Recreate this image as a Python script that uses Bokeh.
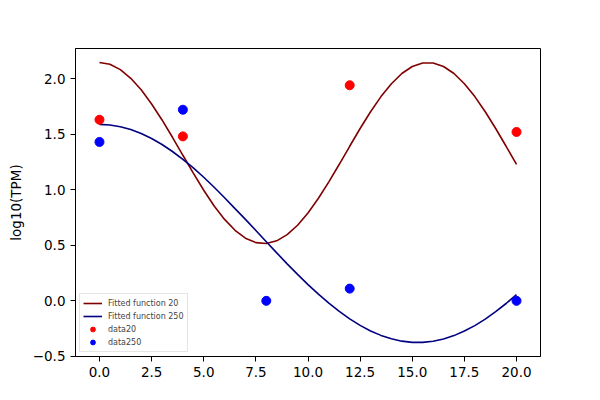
from bokeh.plotting import figure
from bokeh.models import Range1d, FixedTicker, NumeralTickFormatter, Legend, LegendItem
from bokeh.embed import file_html
from bokeh.resources import INLINE

# ---- data ----
x_fit = [0.0, 0.5, 1.0, 1.5, 2.0, 2.5, 3.0, 3.5, 4.0, 4.5, 5.0, 5.5, 6.0, 6.5,
         7.0, 7.5, 8.0, 8.5, 9.0, 9.5, 10.0, 10.5, 11.0, 11.5, 12.0, 12.5, 13.0,
         13.5, 14.0, 14.5, 15.0, 15.5, 16.0, 16.5, 17.0, 17.5, 18.0, 18.5, 19.0,
         19.5, 20.0]
fit20 = [2.145, 2.129, 2.081, 2.003, 1.899, 1.772, 1.628, 1.472, 1.310, 1.149,
         0.995, 0.853, 0.733, 0.635, 0.564, 0.524, 0.516, 0.540, 0.596, 0.680,
         0.791, 0.923, 1.070, 1.229, 1.391, 1.551, 1.702, 1.838, 1.954, 2.046,
         2.109, 2.141, 2.141, 2.109, 2.046, 1.954, 1.838, 1.702, 1.551, 1.391,
         1.229]
fit250 = [1.588, 1.583, 1.567, 1.542, 1.506, 1.461, 1.407, 1.344, 1.274, 1.196,
          1.112, 1.022, 0.928, 0.830, 0.733, 0.633, 0.532, 0.432, 0.333, 0.238,
          0.146, 0.060, -0.021, -0.095, -0.162, -0.221, -0.271, -0.311, -0.342,
          -0.363, -0.374, -0.374, -0.364, -0.343, -0.313, -0.272, -0.223, -0.165,
          -0.098, -0.024, 0.056]
x_data20 = [0, 4, 12, 20]
y_data20 = [1.63, 1.48, 1.94, 1.52]
x_data250 = [0, 4, 8, 12, 20]
y_data250 = [1.43, 1.72, 0.0, 0.11, 0.0]

x_ticks = [0.0, 2.5, 5.0, 7.5, 10.0, 12.5, 15.0, 17.5, 20.0]
x_tick_labels = ["0.0", "2.5", "5.0", "7.5", "10.0", "12.5", "15.0", "17.5", "20.0"]
y_ticks = [-0.5, 0.0, 0.5, 1.0, 1.5, 2.0]
y_tick_labels = ["\u22120.5", "0.0", "0.5", "1.0", "1.5", "2.0"]

series_labels = ["Fitted function 20", "Fitted function 250", "data20", "data250"]

FONT = "DejaVu Sans"

p = figure(width=600, height=400,
           x_range=Range1d(-1.15, 21.15), y_range=Range1d(-0.501, 2.271),
           output_backend="svg", toolbar_location=None,
           min_border_left=75, min_border_right=60,
           min_border_top=48, min_border_bottom=44)
p.background_fill_color = "white"
p.border_fill_color = "white"
p.xgrid.visible = False
p.ygrid.visible = False
p.outline_line_color = "black"
p.outline_line_alpha = 1.0
p.outline_line_width = 1

p.xaxis.ticker = FixedTicker(ticks=x_ticks)
p.yaxis.ticker = FixedTicker(ticks=y_ticks)
p.xaxis.formatter = NumeralTickFormatter(format="0.0")
p.yaxis.formatter = NumeralTickFormatter(format="0.0")
p.xaxis.major_label_overrides = dict(zip(x_ticks, x_tick_labels))
p.yaxis.major_label_overrides = dict(zip(y_ticks, y_tick_labels))

for ax in (p.xaxis, p.yaxis):
    ax.axis_line_color = "black"
    ax.major_tick_line_color = "black"
    ax.major_tick_out = 5
    ax.major_tick_in = 0
    ax.minor_tick_line_color = None
    ax.major_label_standoff = 5
    ax.major_label_text_font = FONT
    ax.major_label_text_font_size = "13.5px"
    ax.major_label_text_color = "black"

p.yaxis.axis_label = "log10(TPM)"
p.yaxis.axis_label_text_font = FONT
p.yaxis.axis_label_text_font_size = "13.5px"
p.yaxis.axis_label_text_font_style = "normal"
p.yaxis.axis_label_text_color = "black"
p.yaxis.axis_label_standoff = 6

r1 = p.line(x_fit, fit20, line_color="#800000", line_width=1.6)
r2 = p.line(x_fit, fit250, line_color="#000080", line_width=1.6)
r3 = p.scatter(x_data20, y_data20, size=9, fill_color="red", line_color="red")
r4 = p.scatter(x_data250, y_data250, size=9, fill_color="blue", line_color="blue")

legend = Legend(items=[LegendItem(label=series_labels[0], renderers=[r1]),
                       LegendItem(label=series_labels[1], renderers=[r2]),
                       LegendItem(label=series_labels[2], renderers=[r3]),
                       LegendItem(label=series_labels[3], renderers=[r4])],
                location="bottom_left", margin=4, padding=3, spacing=1,
                glyph_height=12, glyph_width=19, label_height=12,
                label_standoff=6, label_text_font=FONT,
                label_text_font_size="8px",
                border_line_color="#cccccc", border_line_width=1,
                background_fill_color="white", background_fill_alpha=0.8)
p.add_layout(legend)

open("out.html", "w").write(file_html(p, INLINE))
